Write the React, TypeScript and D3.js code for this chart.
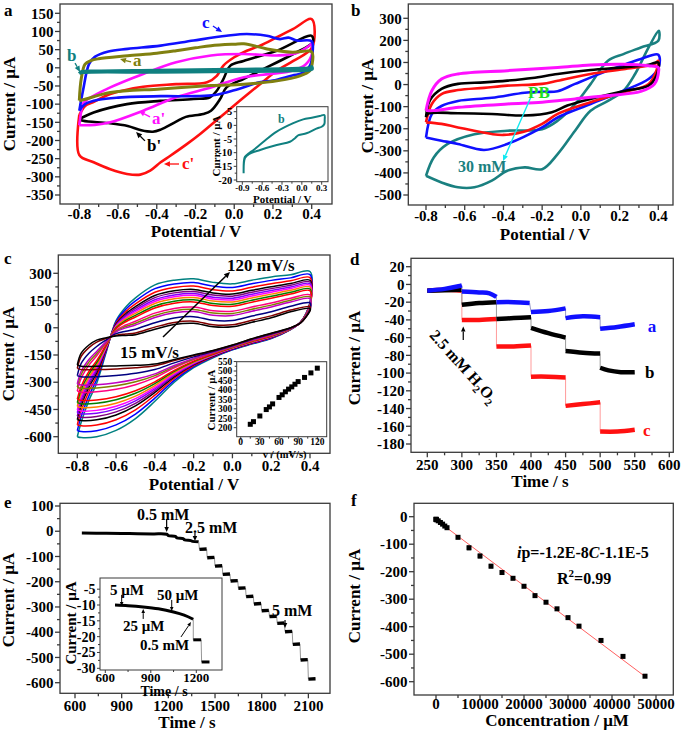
import React from "react";
import * as d3 from "d3";

type Pt = [number, number];
type Box = { l: number; r: number; t: number; b: number };
type Lin = d3.ScaleLinear<number, number>;

const FONT = "'Liberation Serif','Times New Roman',Times,serif";

// ================= Panel a =================
const aTicksX = [-0.8, -0.6, -0.4, -0.2, 0, 0.2, 0.4];
const aTicksY = [150, 100, 50, 0, -50, -100, -150, -200, -250, -300, -350];
const aCurveA: Pt[] = [[-0.8,-90],[-0.79,-30],[-0.77,10],[-0.74,20],[-0.7,25],[-0.55,33],[-0.4,40],[-0.3,47],[-0.2,55],[-0.12,61],[0,65],[0.05,66],[0.17,52],[0.3,43],[0.4,44],[0.402,10],[0.39,-8],[0.34,-22],[0.22,-36],[0.05,-45],[-0.12,-49],[-0.38,-58],[-0.64,-68],[-0.78,-88]];
const aCurveB: Pt[] = [[-0.8,-16],[-0.79,-11],[-0.7,-9],[-0.4,-7],[0,-4],[0.3,-2],[0.39,0],[0.4,3],[0.402,-4],[0.3,-8],[0,-10],[-0.4,-12],[-0.78,-13]];
const aCurveC: Pt[] = [[-0.8,-118],[-0.78,-60],[-0.75,10],[-0.72,30],[-0.65,45],[-0.55,52],[-0.38,61],[-0.21,75],[-0.04,88],[0.065,93],[0.168,88],[0.236,79],[0.28,83],[0.323,75],[0.4,73],[0.405,45],[0.39,5],[0.35,-15],[0.3,-21],[0.2,-35],[0.13,-40],[0,-62],[-0.1,-75],[-0.2,-78],[-0.38,-78],[-0.6,-82],[-0.7,-88],[-0.77,-100]];
const aCurveAp: Pt[] = [[-0.8,-158],[-0.79,-120],[-0.78,-98],[-0.76,-88],[-0.64,-54],[-0.47,-17],[-0.3,15],[-0.12,34],[0.05,38],[0.22,34],[0.32,40],[0.39,62],[0.4,66],[0.402,40],[0.37,10],[0.3,-8],[0.2,-16],[0.05,-26],[-0.12,-54],[-0.3,-81],[-0.47,-118],[-0.64,-150],[-0.72,-157]];
const aCurveBp: Pt[] = [[-0.8,-141],[-0.726,-123],[-0.554,-100],[-0.382,-91],[-0.21,-86],[-0.125,-81],[-0.09,-63],[-0.056,-31],[-0.02,6],[0.048,19],[0.22,47],[0.4,88],[0.405,70],[0.305,38],[0.133,-8],[0.05,-30],[-0.04,-54],[-0.073,-86],[-0.12,-118],[-0.16,-127],[-0.25,-135],[-0.3,-148],[-0.38,-170],[-0.42,-176],[-0.48,-172],[-0.55,-160],[-0.65,-152],[-0.78,-146]];
const aCurveCp: Pt[] = [[-0.8,-130],[-0.77,-105],[-0.73,-95],[-0.64,-72],[-0.47,-52],[-0.3,-45],[-0.14,-40],[-0.09,-22],[-0.056,6],[0,29],[0.065,47],[0.133,61],[0.22,84],[0.305,107],[0.4,134],[0.402,56],[0.305,19],[0.22,-8],[0.133,-45],[0.03,-90],[-0.073,-136],[-0.176,-182],[-0.245,-210],[-0.33,-242],[-0.38,-260],[-0.434,-283],[-0.485,-294],[-0.554,-292],[-0.64,-279],[-0.726,-260],[-0.8,-240]];
const aInsetTicksX = [-0.9, -0.6, -0.3, 0, 0.3];
const aInsetTicksY = [5, 0, -5, -10, -15, -20];
const aInsetLoop: Pt[] = [[-0.88,-17.5],[-0.875,-13],[-0.86,-11.5],[-0.8,-10.2],[-0.73,-9],[-0.58,-6],[-0.38,-2.3],[-0.13,0.8],[0.02,2.2],[0.15,2.8],[0.27,3.4],[0.34,3.8],[0.345,2],[0.34,0.5],[0.3,-0.5],[0.22,-1.2],[0.07,-2.9],[-0.05,-3.6],[-0.1,-4.6],[-0.18,-6],[-0.38,-7.2],[-0.63,-9],[-0.8,-10.5],[-0.86,-12]];

// ================= Panel b =================
const bTicksX = [-0.8, -0.6, -0.4, -0.2, 0, 0.2, 0.4];
const bTicksY = [300, 200, 100, 0, -100, -200, -300, -400, -500];
const bBlack: Pt[] = [[-0.8,-148],[-0.78,-72],[-0.72,-20],[-0.635,3],[-0.5,10],[-0.38,18],[-0.25,30],[-0.12,48],[0.05,66],[0.22,78],[0.35,90],[0.4,100],[0.39,40],[0.35,-5],[0.23,-28],[0.05,-65],[-0.07,-95],[-0.15,-125],[-0.29,-140],[-0.46,-133],[-0.635,-130],[-0.79,-132]];
const bRed: Pt[] = [[-0.8,-171],[-0.77,-88],[-0.72,-43],[-0.635,-25],[-0.5,-15],[-0.38,-5],[-0.2,3],[-0.12,17],[0.05,48],[0.22,70],[0.38,93],[0.4,108],[0.39,63],[0.35,3],[0.22,-35],[0.05,-80],[-0.12,-133],[-0.2,-178],[-0.3,-215],[-0.4,-228],[-0.46,-224],[-0.635,-194],[-0.72,-178]];
const bBlue: Pt[] = [[-0.8,-240],[-0.77,-134],[-0.72,-97],[-0.635,-74],[-0.46,-60],[-0.29,-37],[-0.2,-33],[-0.12,-30],[-0.03,3],[0.14,63],[0.31,116],[0.4,135],[0.402,78],[0.35,25],[0.22,-28],[0.05,-88],[-0.12,-149],[-0.2,-194],[-0.38,-269],[-0.5,-296],[-0.635,-269],[-0.72,-254]];
const bMagenta: Pt[] = [[-0.8,-118],[-0.77,-28],[-0.72,25],[-0.635,48],[-0.38,63],[-0.12,77],[0.05,89],[0.22,92],[0.35,85],[0.4,77],[0.402,63],[0.38,2],[0.31,-31],[0.14,-50],[-0.03,-65],[-0.2,-80],[-0.38,-88],[-0.63,-103],[-0.76,-118]];
const bTeal: Pt[] = [[-0.8,-413],[-0.76,-330],[-0.69,-270],[-0.55,-225],[-0.38,-209],[-0.2,-202],[-0.12,-164],[-0.03,-89],[0.05,2],[0.14,108],[0.22,138],[0.31,168],[0.4,198],[0.402,244],[0.35,168],[0.28,48],[0.22,-28],[0.14,-74],[0.05,-119],[-0.03,-209],[-0.12,-315],[-0.2,-383],[-0.29,-375],[-0.38,-390],[-0.46,-435],[-0.55,-465],[-0.635,-465],[-0.72,-443]];

// ================= Panel c =================
const cTicksX = [-0.8, -0.6, -0.4, -0.2, 0, 0.2, 0.4];
const cTicksY = [300, 150, 0, -150, -300, -450, -600];
const cPotTop = [-0.8,-0.78,-0.74,-0.7,-0.65,-0.6,-0.55,-0.5,-0.4,-0.3,-0.2,-0.1,0,0.1,0.2,0.3,0.4];
const cOuterTop = [-600,-520,-400,-305,-131,40,115,165,236,262,270,250,242,262,280,292,310];
const cInnerTop = [-205,-140,-95,-68,-55,-45,-42,-38,-8,18,25,5,5,30,55,88,107];
const cPotBot = [0.402,0.38,0.35,0.3,0.2,0.1,0,-0.1,-0.2,-0.3,-0.4,-0.5,-0.6,-0.7,-0.78];
const cOuterBot = [150,80,30,-10,-60,-90,-122,-165,-220,-300,-405,-500,-565,-600,-605];
const cInnerBot = [100,60,25,0,-30,-60,-95,-125,-150,-175,-200,-207,-210,-212,-212];
const cScanRate = [15,20,30,40,45,50,60,65,70,75,80,85,90,100,110,120];
const cPeakCurrent = [218,232,262,296,310,326,360,374,390,404,416,430,444,466,490,515];
const cColors = ["#000000","#800000","#000080","#c000c0","#808000","#ff0080","#ff0000","#008000","#ff8000","#ff00ff","#8000ff","#800080","#000000","#ff0000","#0000ff","#008080"];
const cInsetTicksX = [0, 30, 60, 90, 120];
const cInsetTicksY = [550, 500, 450, 400, 350, 300, 250, 200];

// ================= Panel d =================
const dTicksX = [250, 300, 350, 400, 450, 500, 550, 600];
const dTicksY = [20, 0, -20, -40, -60, -80, -100, -120, -140, -160, -180];
const dSegA: Pt[][] = [
  [[250,-7],[275,-5],[295,-2],[300,-1]],
  [[300,-8],[325,-9],[340,-10],[350,-14]],
  [[350,-20],[375,-20],[398,-21]],
  [[400,-31],[425,-30],[450,-27]],
  [[450,-38],[475,-36],[500,-37]],
  [[500,-50],[525,-48],[550,-45]],
];
const dSegB: Pt[][] = [
  [[250,-7],[300,-6]],
  [[300,-23],[325,-21],[350,-20]],
  [[350,-39],[375,-38],[400,-37]],
  [[400,-49],[425,-55],[450,-60]],
  [[450,-75],[475,-77],[500,-78]],
  [[500,-94],[512,-97],[530,-99],[550,-99]],
];
const dSegC: Pt[][] = [
  [[250,-7],[275,-6],[300,-7]],
  [[300,-40],[325,-40],[350,-39]],
  [[350,-70],[375,-70],[400,-69]],
  [[400,-104],[425,-104],[450,-105]],
  [[450,-137],[475,-135],[500,-133]],
  [[500,-166],[525,-166],[550,-164]],
];

// ================= Panel e =================
const eTicksX = [600, 900, 1200, 1500, 1800, 2100];
const eTicksY = [100, 0, -100, -200, -300, -400, -500, -600];
const eLead: Pt[] = [[644,-7],[800,-8],[950,-9],[1100,-10.5],[1190,-12],[1200,-17],[1245,-20],[1255,-26],[1295,-29],[1305,-34],[1345,-37],[1355,-40],[1395,-42]];
const eStepTime = [1400,1450,1500,1550,1600,1650,1700,1750,1800,1850,1900,1950,2000,2050,2100];
const eStepCurrent = [-72,-105,-138,-171,-197,-226,-259,-288,-315,-338,-365,-398,-448,-510,-586];
const eInsetTicksX = [600, 900, 1200];
const eInsetTicksY = [-5, -10, -15, -20, -25, -30];
const eInsetLead: Pt[] = [[664,-10],[750,-10.2],[850,-10.6],[950,-11.2],[1050,-12.2],[1120,-13.2],[1180,-14.5]];
const eInsetStepTime = [1180, 1235];
const eInsetStepCurrent = [-21, -28];

// ================= Panel f =================
const fTicksX = [0, 10000, 20000, 30000, 40000, 50000];
const fTicksY = [0, -100, -200, -300, -400, -500, -600];
const fConc = [5,25,50,100,500,1000,1500,2000,2500,5000,7500,10000,12500,15000,17500,20000,22500,25000,27500,30000,32500,37500,42500,47500];
const fCurrent = [-9,-10,-10.5,-11,-15,-21,-27,-34,-40,-75,-113,-143,-180,-203,-224,-253,-287,-311,-335,-367,-398,-450,-508,-580];
const fError = [1,1,1,1,1,2,2,2,2,4,8,8,7,4,4,5,3,3,3,3,6,3,3,3];
const fFitConc = [0, 47500];
const fFitCurrent = [-11, -581];

// ================= helpers =================
const mids = (a: number[]) => a.slice(1).map((v, i) => (v + a[i]) / 2);
const f1 = (v: number) => v.toFixed(1);
const f0 = (v: number) => String(v);

function loopPath(pts: Pt[], x: Lin, y: Lin): string {
  return d3.line<Pt>().x((d) => x(d[0])).y((d) => y(d[1])).curve(d3.curveCatmullRom.alpha(0.5))([...pts, pts[0]]) ?? "";
}
function openPath(pts: Pt[], x: Lin, y: Lin): string {
  return d3.line<Pt>().x((d) => x(d[0])).y((d) => y(d[1])).curve(d3.curveCatmullRom.alpha(0.5))(pts) ?? "";
}

function Axes(p: { box: Box; x: Lin; y: Lin; xt: number[]; yt: number[]; fx: (v: number) => string; fy: (v: number) => string; fs?: number; fsx?: number; maj?: number; mnr?: number; xOff?: number; sw?: number }) {
  const { box, x, y, xt, yt, fx, fy } = p;
  const fs = p.fs ?? 15, fsx = p.fsx ?? fs, maj = p.maj ?? 5, mnr = p.mnr ?? 3, xOff = p.xOff ?? 15, sw = p.sw ?? 1.3;
  const col = "#3a3a3a";
  return (
    <g>
      <rect x={box.l} y={box.t} width={box.r - box.l} height={box.b - box.t} fill="none" stroke={col} strokeWidth={sw} />
      {xt.map((v, i) => <line key={"xt" + i} x1={x(v)} x2={x(v)} y1={box.b} y2={box.b + maj} stroke={col} strokeWidth={sw} />)}
      {mids(xt).map((v, i) => <line key={"xm" + i} x1={x(v)} x2={x(v)} y1={box.b} y2={box.b + mnr} stroke={col} strokeWidth={sw} />)}
      {yt.map((v, i) => <line key={"yt" + i} x1={box.l - maj} x2={box.l} y1={y(v)} y2={y(v)} stroke={col} strokeWidth={sw} />)}
      {mids(yt).map((v, i) => <line key={"ym" + i} x1={box.l - mnr} x2={box.l} y1={y(v)} y2={y(v)} stroke={col} strokeWidth={sw} />)}
      {xt.map((v, i) => <text key={"xl" + i} x={x(v)} y={box.b + xOff} textAnchor="middle" fontSize={fsx}>{fx(v)}</text>)}
      {yt.map((v, i) => <text key={"yl" + i} x={box.l - maj - 1.5} y={y(v)} dy="0.35em" textAnchor="end" fontSize={fs}>{fy(v)}</text>)}
    </g>
  );
}

function Arrow(p: { x1: number; y1: number; x2: number; y2: number; color: string; w?: number; head?: number }) {
  const w = p.w ?? 1.3, h = p.head ?? 6;
  const a = Math.atan2(p.y2 - p.y1, p.x2 - p.x1);
  const bx = p.x2 - h * Math.cos(a), by = p.y2 - h * Math.sin(a);
  const pts = [
    [p.x2, p.y2],
    [bx + (h * 0.45) * Math.sin(a), by - (h * 0.45) * Math.cos(a)],
    [bx - (h * 0.45) * Math.sin(a), by + (h * 0.45) * Math.cos(a)],
  ].map((q) => q.join(",")).join(" ");
  return (
    <g>
      <line x1={p.x1} y1={p.y1} x2={bx} y2={by} stroke={p.color} strokeWidth={w} />
      <polygon points={pts} fill={p.color} />
    </g>
  );
}

function YTitle(p: { x: number; y: number; fs?: number; children: React.ReactNode }) {
  return <text transform={`translate(${p.x},${p.y}) rotate(-90)`} textAnchor="middle" fontSize={p.fs ?? 17}>{p.children}</text>;
}

export default function App() {
  // ---- a ----
  const aBox: Box = { l: 60, r: 332, t: 4, b: 204 };
  const ax = d3.scaleLinear().domain([-0.8, 0.4]).range([79.3, 311.7]);
  const ay = d3.scaleLinear().domain([150, -350]).range([13.3, 195]);
  const aiBox: Box = { l: 236.7, r: 328, t: 106.7, b: 181.7 };
  const aix = d3.scaleLinear().domain([-0.9, 0.3]).range([242.3, 321.7]);
  const aiy = d3.scaleLinear().domain([5, -20]).range([111.7, 180]);

  // ---- b ----
  const bBox: Box = { l: 408.3, r: 673, t: 4, b: 205 };
  const bx = d3.scaleLinear().domain([-0.8, 0.4]).range([426, 658.3]);
  const by = d3.scaleLinear().domain([300, -500]).range([18.3, 195]);

  // ---- c ----
  const cBox: Box = { l: 58.3, r: 330, t: 255, b: 453.3 };
  const cx = d3.scaleLinear().domain([-0.8, 0.4]).range([77.3, 310]);
  const cy = d3.scaleLinear().domain([300, -600]).range([273.3, 436.7]);
  const ciBox: Box = { l: 236.7, r: 326.7, t: 361.7, b: 436.7 };
  const cix = d3.scaleLinear().domain([0, 120]).range([240.7, 317.3]);
  const ciy = d3.scaleLinear().domain([500, 200]).range([371, 427.7]);
  const pMin = d3.min(cPeakCurrent) as number, pMax = d3.max(cPeakCurrent) as number;
  const cLoops: Pt[][] = cPeakCurrent.map((ip) => {
    const w = (ip - pMin) / (pMax - pMin);
    const top: Pt[] = cPotTop.map((v, i) => [v, cInnerTop[i] + w * (cOuterTop[i] - cInnerTop[i])]);
    const bot: Pt[] = cPotBot.map((v, i) => [v, cInnerBot[i] + w * (cOuterBot[i] - cInnerBot[i])]);
    return [...top, ...bot];
  });

  // ---- d ----
  const dBox: Box = { l: 411, r: 673.3, t: 258.3, b: 452.3 };
  const dx = d3.scaleLinear().domain([250, 600]).range([427.3, 669.3]);
  const dy = d3.scaleLinear().domain([20, -180]).range([266.7, 444]);

  // ---- e ----
  const eBox: Box = { l: 60, r: 330, t: 503.3, b: 693.3 };
  const ex = d3.scaleLinear().domain([600, 1800]).range([75, 261.7]);
  const ey = d3.scaleLinear().domain([100, -600]).range([506, 682.7]);
  const eiBox: Box = { l: 100, r: 222, t: 578, b: 670 };
  const eix = d3.scaleLinear().domain([600, 1200]).range([105.3, 196.3]);
  const eiy = d3.scaleLinear().domain([-10, -30]).range([605, 668.3]);

  // ---- f ----
  const fBox: Box = { l: 414, r: 673.3, t: 503.3, b: 695 };
  const fx = d3.scaleLinear().domain([0, 50000]).range([436, 656]);
  const fy = d3.scaleLinear().domain([0, -600]).range([516.7, 681.7]);

  const segLines = (segs: Pt[][], x: Lin, y: Lin, color: string, thin: string, w: number, key: string) => (
    <g key={key}>
      {segs.slice(1).map((s, i) => {
        const prev = segs[i][segs[i].length - 1];
        return <line key={"c" + i} x1={x(prev[0])} y1={y(prev[1])} x2={x(s[0][0])} y2={y(s[0][1])} stroke={thin} strokeWidth={0.9} />;
      })}
      {segs.map((s, i) => <path key={"s" + i} d={openPath(s, x, y)} fill="none" stroke={color} strokeWidth={w} />)}
    </g>
  );

  const eSegs: Pt[][] = eStepTime.map((t, i) => [[t, eStepCurrent[i]], [t + 46, eStepCurrent[i] + 1.5]]);
  const eiSegs: Pt[][] = eInsetStepTime.map((t, i) => [[t, eInsetStepCurrent[i]], [t + 52, eInsetStepCurrent[i]]]);

  return (
    <svg width={685} height={736} style={{ position: "absolute", left: 0, top: 0, background: "#fff" }} fontFamily={FONT} fontWeight="bold">
      <rect x={0} y={0} width={685} height={736} fill="#fff" />

      {/* ================= a ================= */}
      <g fill="none" strokeWidth={2.6} strokeLinejoin="round">
        <path d={loopPath(aCurveCp, ax, ay)} stroke="#ff1010" />
        <path d={loopPath(aCurveBp, ax, ay)} stroke="#000" />
        <path d={loopPath(aCurveAp, ax, ay)} stroke="#ff10ff" />
        <path d={loopPath(aCurveC, ax, ay)} stroke="#1010ff" />
        <path d={loopPath(aCurveA, ax, ay)} stroke="#808010" strokeWidth={3} />
        <path d={loopPath(aCurveB, ax, ay)} stroke="#108080" strokeWidth={3.2} />
      </g>
      <Axes box={aBox} x={ax} y={ay} xt={aTicksX} yt={aTicksY} fx={f1} fy={f0} xOff={15} />
      <rect x={aiBox.l} y={aiBox.t} width={aiBox.r - aiBox.l} height={aiBox.b - aiBox.t} fill="#fff" />
      <path d={loopPath(aInsetLoop, aix, aiy)} fill="none" stroke="#108080" strokeWidth={2} />
      <Axes box={aiBox} x={aix} y={aiy} xt={aInsetTicksX} yt={aInsetTicksY} fx={f1} fy={f0} fs={10.5} fsx={9} maj={3} mnr={2} xOff={9} sw={1} />
      <text x={(aiBox.l + aiBox.r) / 2} y={203} textAnchor="middle" fontSize={11}>Potential / V</text>
      <YTitle x={220} y={146} fs={11}>Current / μA</YTitle>
      <text x={aix(-0.361)} y={aiy(0.86)} fontSize={12} fill="#108080">b</text>
      <text x={ax(-0.167)} y={ay(109.5)} fontSize={17} fill="#1010ff">c</text>
      <Arrow x1={ax(-0.11)} y1={ay(115)} x2={ax(-0.063)} y2={ay(98.5)} color="#1010ff" />
      <text x={ax(-0.864)} y={ay(18.7)} fontSize={17} fill="#108080">b</text>
      <Arrow x1={ax(-0.822)} y1={ay(13)} x2={ax(-0.796)} y2={ay(-11.5)} color="#108080" />
      <text x={ax(-0.523)} y={ay(5)} fontSize={17} fill="#808010">a</text>
      <Arrow x1={ax(-0.533)} y1={ay(16)} x2={ax(-0.59)} y2={ay(24)} color="#808010" />
      <text x={ax(-0.425)} y={ay(-154.6)} fontSize={17} fill="#ff10ff">a'</text>
      <Arrow x1={ax(-0.435)} y1={ay(-135)} x2={ax(-0.492)} y2={ay(-119)} color="#ff10ff" />
      <text x={ax(-0.45)} y={ay(-229)} fontSize={17} fill="#000">b'</text>
      <Arrow x1={ax(-0.461)} y1={ay(-201)} x2={ax(-0.507)} y2={ay(-176.6)} color="#000" />
      <text x={ax(-0.27)} y={ay(-278.5)} fontSize={17} fill="#ff1010">c'</text>
      <Arrow x1={ax(-0.285)} y1={ay(-264.7)} x2={ax(-0.363)} y2={ay(-264.7)} color="#ff1010" />
      <text x={196} y={237} textAnchor="middle" fontSize={17}>Potential / V</text>
      <YTitle x={15} y={104}>Current / μA</YTitle>
      <text x={4} y={16} fontSize={17}>a</text>

      {/* ================= b ================= */}
      <g fill="none" strokeWidth={2.6} strokeLinejoin="round">
        <path d={loopPath(bTeal, bx, by)} stroke="#1a8080" />
        <path d={loopPath(bBlue, bx, by)} stroke="#1010ff" />
        <path d={loopPath(bRed, bx, by)} stroke="#ff1010" />
        <path d={loopPath(bBlack, bx, by)} stroke="#000" />
        <path d={loopPath(bMagenta, bx, by)} stroke="#ff10ff" strokeWidth={3} />
      </g>
      <Axes box={bBox} x={bx} y={by} xt={bTicksX} yt={bTicksY} fx={f1} fy={f0} xOff={16} />
      <Arrow x1={bx(-0.258)} y1={by(-56)} x2={bx(-0.402)} y2={by(-346)} color="#10e8f0" w={1.4} />
      <text x={bx(-0.273)} y={by(-60.8)} fontSize={17} fill="#22dd22">PB</text>
      <text x={bx(-0.635)} y={by(-396)} fontSize={16} fill="#1a8080">30 mM</text>
      <text x={545} y={240} textAnchor="middle" fontSize={17}>Potential / V</text>
      <YTitle x={373} y={106}>Current / μA</YTitle>
      <text x={351} y={16} fontSize={17}>b</text>

      {/* ================= c ================= */}
      <g fill="none" strokeWidth={1.5} strokeLinejoin="round">
        {cLoops.slice().reverse().map((lp, i) => (
          <path key={i} d={loopPath(lp, cx, cy)} stroke={cColors[cColors.length - 1 - i]} />
        ))}
      </g>
      <Axes box={cBox} x={cx} y={cy} xt={cTicksX} yt={cTicksY} fx={f1} fy={f0} xOff={18} />
      <rect x={ciBox.l} y={ciBox.t} width={ciBox.r - ciBox.l} height={ciBox.b - ciBox.t} fill="#fff" />
      {cScanRate.map((v, i) => (
        <rect key={i} x={cix(v) - 2.5} y={ciy(cPeakCurrent[i]) - 2.5} width={5} height={5} fill="#000" />
      ))}
      <Axes box={ciBox} x={cix} y={ciy} xt={cInsetTicksX} yt={cInsetTicksY} fx={f0} fy={f0} fs={9.5} fsx={9.5} maj={3} mnr={2} xOff={8.5} sw={1} />
      <text x={(ciBox.l + ciBox.r) / 2 + 3} y={457.5} textAnchor="middle" fontSize={10.5}>v / (mV/s)</text>
      <YTitle x={215} y={400} fs={11}>Current / μA</YTitle>
      <Arrow x1={cx(-0.358)} y1={cy(-50.8)} x2={cx(-0.0125)} y2={cy(307)} color="#000" w={1.5} />
      <text x={cx(-0.028)} y={cy(312.7)} fontSize={17}>120 mV/s</text>
      <text x={cx(-0.58)} y={cy(-166)} fontSize={17}>15 mV/s</text>
      <text x={194} y={490} textAnchor="middle" fontSize={17}>Potential / V</text>
      <YTitle x={14} y={354}>Current / μA</YTitle>
      <text x={4} y={264} fontSize={17}>c</text>

      {/* ================= d ================= */}
      {segLines(dSegC, dx, dy, "#ff1010", "#ff9090", 4.5, "dc")}
      {segLines(dSegB, dx, dy, "#000", "#909090", 4.5, "db")}
      {segLines(dSegA, dx, dy, "#1010ff", "#9090c0", 4.5, "da")}
      <Axes box={dBox} x={dx} y={dy} xt={dTicksX} yt={dTicksY} fx={f0} fy={f0} xOff={17.5} />
      <Arrow x1={dx(302)} y1={dy(-62.7)} x2={dx(302)} y2={dy(-47.5)} color="#000" w={1.2} head={5} />
      <text transform={`translate(${dx(252)},${dy(-58)}) rotate(48)`} fontSize={16}>
        2.5 mM H<tspan dy={4} fontSize={11}>2</tspan><tspan dy={-4}>O</tspan><tspan dy={4} fontSize={11}>2</tspan>
      </text>
      <text x={dx(569)} y={dy(-53.7)} fontSize={17} fill="#1010ff">a</text>
      <text x={dx(565)} y={dy(-105.5)} fontSize={17} fill="#000">b</text>
      <text x={dx(562)} y={dy(-171)} fontSize={17} fill="#ff1010">c</text>
      <text x={540} y={487} textAnchor="middle" fontSize={17}>Time / s</text>
      <YTitle x={360} y={358}>Current / μA</YTitle>
      <text x={350} y={265} fontSize={17}>d</text>

      {/* ================= e ================= */}
      <path d={openPath(eLead, ex, ey)} fill="none" stroke="#000" strokeWidth={3} />
      {segLines([eLead.slice(-1), ...eSegs], ex, ey, "#000", "#8a8a8a", 3.4, "es")}
      <Axes box={eBox} x={ex} y={ey} xt={eTicksX} yt={eTicksY} fx={f0} fy={f0} xOff={18} />
      <text x={ex(998)} y={ey(44.5)} fontSize={16}>0.5 mM</text>
      <Arrow x1={ex(1189)} y1={ey(48.5)} x2={ex(1189)} y2={ey(-3)} color="#000" w={1.2} head={5} />
      <text x={ex(1307)} y={ey(-7)} fontSize={16}>2.5 mM</text>
      <Arrow x1={ex(1371)} y1={ey(-7)} x2={ex(1371)} y2={ey(-38.7)} color="#000" w={1.2} head={5} />
      <text x={ex(1866)} y={ey(-336)} fontSize={16}>5 mM</text>
      <Arrow x1={ex(1950)} y1={ey(-352)} x2={ex(1950)} y2={ey(-383)} color="#000" w={1.2} head={5} />
      <rect x={eiBox.l} y={eiBox.t} width={eiBox.r - eiBox.l} height={eiBox.b - eiBox.t} fill="#fff" />
      <path d={openPath(eInsetLead, eix, eiy)} fill="none" stroke="#000" strokeWidth={3} />
      {segLines([eInsetLead.slice(-1), ...eiSegs], eix, eiy, "#000", "#8a8a8a", 3, "eis")}
      <Axes box={eiBox} x={eix} y={eiy} xt={eInsetTicksX} yt={eInsetTicksY} fx={f0} fy={f0} fs={14} fsx={13} maj={3} mnr={2} xOff={11.5} sw={1} />
      <text x={eix(631)} y={eiy(-6.84)} fontSize={15}>5 μM</text>
      <Arrow x1={eix(708)} y1={eiy(-6.8)} x2={eix(708)} y2={eiy(-10.3)} color="#000" w={1} head={4} />
      <text x={eix(941)} y={eiy(-8.4)} fontSize={15}>50 μM</text>
      <Arrow x1={eix(1038)} y1={eiy(-8.4)} x2={eix(1038)} y2={eiy(-11.9)} color="#000" w={1} head={4} />
      <text x={eix(717)} y={eiy(-18.2)} fontSize={15}>25 μM</text>
      <Arrow x1={eix(850)} y1={eiy(-14.4)} x2={eix(850)} y2={eiy(-11.3)} color="#000" w={1} head={4} />
      <text x={eix(829)} y={eiy(-24.2)} fontSize={15}>0.5 mM</text>
      <Arrow x1={eix(1099)} y1={eiy(-20.1)} x2={eix(1165)} y2={eiy(-15.4)} color="#000" w={1} head={4} />
      <text x={164} y={696} textAnchor="middle" fontSize={14}>Time / s</text>
      <YTitle x={76} y={623} fs={15}>Current / μA</YTitle>
      <text x={187} y={728} textAnchor="middle" fontSize={17}>Time / s</text>
      <YTitle x={14} y={600}>Current / μA</YTitle>
      <text x={4} y={508} fontSize={17}>e</text>

      {/* ================= f ================= */}
      <line x1={fx(fFitConc[0])} y1={fy(fFitCurrent[0])} x2={fx(fFitConc[1])} y2={fy(fFitCurrent[1])} stroke="#ff6060" strokeWidth={1} />
      {fConc.map((c, i) => (
        <g key={i}>
          <line x1={fx(c)} x2={fx(c)} y1={fy(fCurrent[i] + fError[i])} y2={fy(fCurrent[i] - fError[i])} stroke="#999" strokeWidth={1} />
          <line x1={fx(c) - 2} x2={fx(c) + 2} y1={fy(fCurrent[i] + fError[i])} y2={fy(fCurrent[i] + fError[i])} stroke="#999" strokeWidth={1} />
          <line x1={fx(c) - 2} x2={fx(c) + 2} y1={fy(fCurrent[i] - fError[i])} y2={fy(fCurrent[i] - fError[i])} stroke="#999" strokeWidth={1} />
          <rect x={fx(c) - 2.5} y={fy(fCurrent[i]) - 2.5} width={5} height={5} fill="#000" />
        </g>
      ))}
      <Axes box={fBox} x={fx} y={fy} xt={fTicksX} yt={fTicksY} fx={f0} fy={f0} xOff={14} />
      <text x={fx(18409)} y={fy(-150.2)} fontSize={16}>
        <tspan fontStyle="italic">i</tspan>p=-1.2E-8<tspan fontStyle="italic">C</tspan>-1.1E-5
      </text>
      <text x={fx(27500)} y={fy(-244.7)} fontSize={16}>
        R<tspan dy={-7} fontSize={11}>2</tspan><tspan dy={7}>=0.99</tspan>
      </text>
      <text x={557} y={726} textAnchor="middle" fontSize={17}>Concentration / μM</text>
      <YTitle x={360} y={596}>Current / μA</YTitle>
      <text x={351} y={506} fontSize={17}>f</text>
    </svg>
  );
}
